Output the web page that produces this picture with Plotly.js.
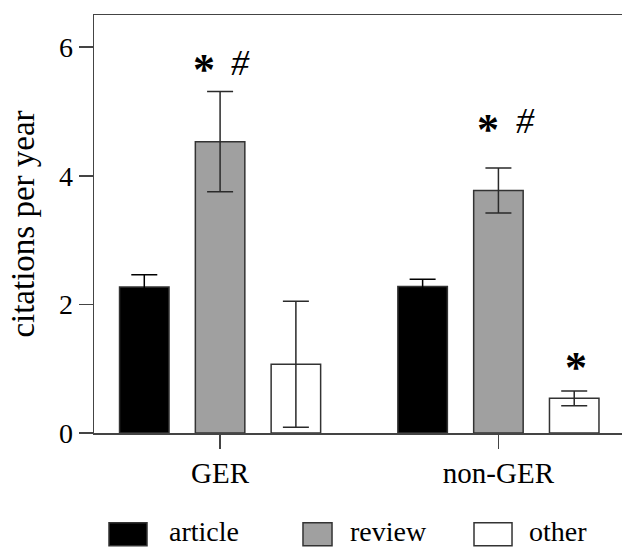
<!DOCTYPE html>
<html>
<head>
<meta charset="utf-8">
<script src="https://cdn.plot.ly/plotly-3.0.1.min.js"></script>
<style>html,body{margin:0;padding:0;background:#fff;}#chart{width:622px;height:547px;}</style>
</head>
<body>
<div id="chart"></div>
<script>
const groups = ['GER', 'non-GER'];
const seriesNames = ['article', 'review', 'other'];
const articleVals = [2.27, 2.28];
const articleErr = [0.19, 0.11];
const reviewVals = [4.53, 3.77];
const reviewErr = [0.78, 0.35];
const otherVals = [1.07, 0.54];
const otherErr = [0.98, 0.115];
const yTicks = [0, 2, 4, 6];
const yTitle = 'citations per year';
// significance marks: [group, offset within group, y value, symbol]
const marks = [
  ['GER', -0.058, 5.66, '*'],
  ['GER', 0.074, 5.76, '#'],
  ['non-GER', -0.037, 4.72, '*'],
  ['non-GER', 0.096, 4.85, '#'],
  ['non-GER', 0.278, 1.02, '*']
];

const FONT = 'Liberation Serif, Times New Roman, serif';
const edge = '#333333';
const fills = ['#000000', '#a0a0a0', '#ffffff'];
const errColors = ['#000000', '#2a2a2a', '#2a2a2a'];
const vals = [articleVals, reviewVals, otherVals];
const errs = [articleErr, reviewErr, otherErr];

const traces = seriesNames.map((n, i) => ({
  type: 'bar',
  name: n,
  x: groups,
  y: vals[i],
  marker: {color: fills[i], line: {color: edge, width: 1.5}},
  error_y: {type: 'data', array: errs[i], visible: true, color: errColors[i], thickness: 1.5, width: 13},
  showlegend: false
}));

const annotations = marks.map(m => {
  const gx = groups.indexOf(m[0]) + m[1];
  const star = m[3] === '*';
  return {
    x: gx, y: m[2], xref: 'x', yref: 'y',
    text: star ? '<b>*</b>' : '<i>#</i>',
    showarrow: false, xanchor: 'center', yanchor: 'middle',
    font: {family: FONT, size: star ? 44 : 36, color: '#000'}
  };
});

// custom legend (paper coords)
const shapes = [];
const legX = [[0.0284, 0.1004], [0.3958, 0.4508], [0.7197, 0.7917]];
const legTextX = [0.1383, 0.4811, 0.8201];
seriesNames.forEach((n, i) => {
  shapes.push({type: 'rect', xref: 'paper', yref: 'paper',
    x0: legX[i][0], x1: legX[i][1], y0: -0.270, y1: -0.215,
    fillcolor: fills[i], line: {color: edge, width: 1.5}});
  annotations.push({xref: 'paper', yref: 'paper', x: legTextX[i], y: -0.236,
    xanchor: 'left', yanchor: 'middle', showarrow: false, text: n,
    font: {family: FONT, size: 28, color: '#000'}});
});

const layout = {
  width: 622, height: 547,
  margin: {l: 94, r: 0, t: 15, b: 114},
  paper_bgcolor: '#fff', plot_bgcolor: '#fff',
  barmode: 'group', bargap: 0.183, bargroupgap: 0.347,
  font: {family: FONT, size: 28, color: '#000'},
  xaxis: {
    type: 'category', range: [-0.453, 1.444],
    showline: true, linecolor: '#444', linewidth: 1.5, mirror: true,
    ticks: 'outside', ticklen: 14, tickwidth: 1.5, tickcolor: '#444',
    showgrid: false, zeroline: false,
    tickfont: {family: FONT, size: 29, color: '#000'}
  },
  yaxis: {
    range: [0, 6.5], tickvals: yTicks, ticktext: yTicks.map(String),
    showline: true, linecolor: '#444', linewidth: 1.5,
    ticks: 'outside', ticklen: 14, tickwidth: 1.5, tickcolor: '#444',
    showgrid: false, zeroline: false,
    tickfont: {family: FONT, size: 28, color: '#000'},
    title: {text: yTitle, font: {family: FONT, size: 33, color: '#000'}, standoff: 14}
  },
  showlegend: false,
  shapes: shapes,
  annotations: annotations
};

Plotly.newPlot('chart', traces, layout, {displayModeBar: false, staticPlot: true});
</script>
</body>
</html>
